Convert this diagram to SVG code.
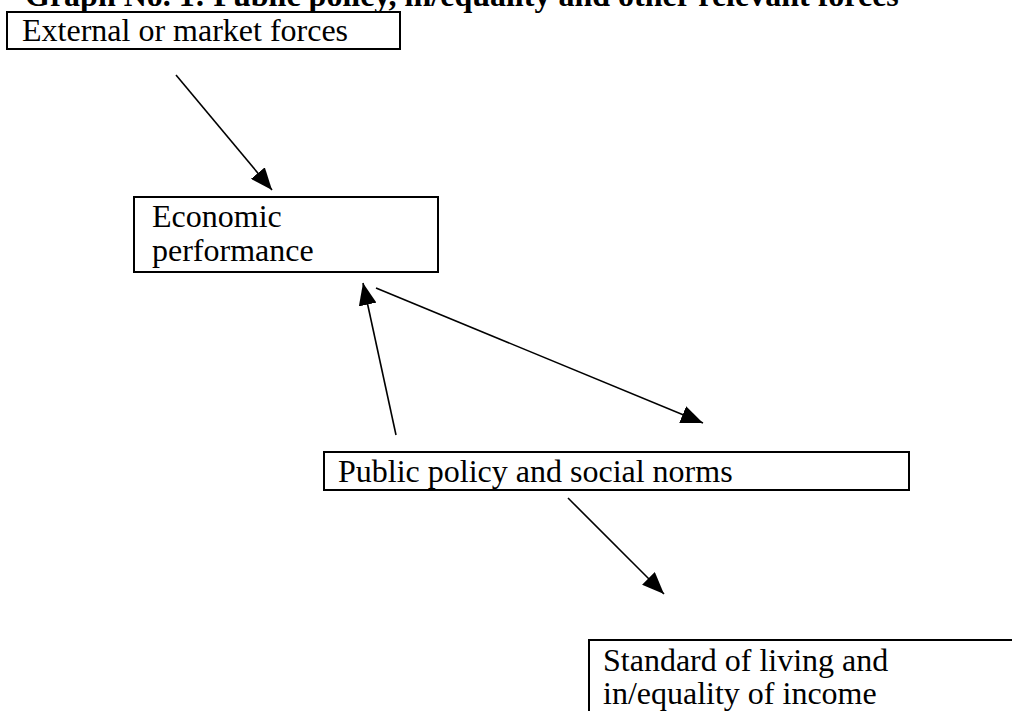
<svg xmlns="http://www.w3.org/2000/svg" width="1012" height="711" viewBox="0 0 1012 711">
  <style>
    .box { fill: #ffffff; stroke: #000000; stroke-width: 2; }
    .lbl { font-family: "Liberation Serif", "Times New Roman", serif; font-size: 32px; fill: #000000; }
    .title { font-family: "Liberation Serif", "Times New Roman", serif; font-size: 32px; font-weight: bold; fill: #000000; }
    .conn { stroke: #000000; stroke-width: 1.6; fill: none; marker-end: url(#arrow); }
  </style>
  <defs>
    <marker id="arrow" viewBox="0 0 22 18" refX="22" refY="9" markerWidth="22" markerHeight="18" markerUnits="userSpaceOnUse" orient="auto">
      <path d="M0,0 L22,9 L0,18 Z" fill="#000000"/>
    </marker>
  </defs>
  <rect x="0" y="0" width="1012" height="711" fill="#ffffff"/>
  <text class="title" x="25" y="6">Graph No. 1: Public policy, in/equality and other relevant forces</text>

  <g id="node-external">
    <rect class="box" x="7" y="12" width="393" height="37"/>
    <text class="lbl" x="22" y="41">External or market forces</text>
  </g>
  <g id="node-economic">
    <rect class="box" x="134" y="197" width="304" height="75"/>
    <text class="lbl" x="152" y="227">Economic</text>
    <text class="lbl" x="152" y="261">performance</text>
  </g>
  <g id="node-public">
    <rect class="box" x="324" y="452" width="585" height="38"/>
    <text class="lbl" x="338" y="482">Public policy and social norms</text>
  </g>
  <g id="node-standard">
    <rect class="box" x="589" y="640" width="460" height="100"/>
    <text class="lbl" x="603" y="671">Standard of living and</text>
    <text class="lbl" x="603" y="704">in/equality of income</text>
  </g>

  <g id="connectors">
    <line class="conn" x1="176" y1="75" x2="272" y2="190"/>
    <line class="conn" x1="396" y1="435" x2="363" y2="283"/>
    <line class="conn" x1="376" y1="288" x2="703" y2="423"/>
    <line class="conn" x1="568" y1="498" x2="664" y2="594"/>
  </g>
</svg>
